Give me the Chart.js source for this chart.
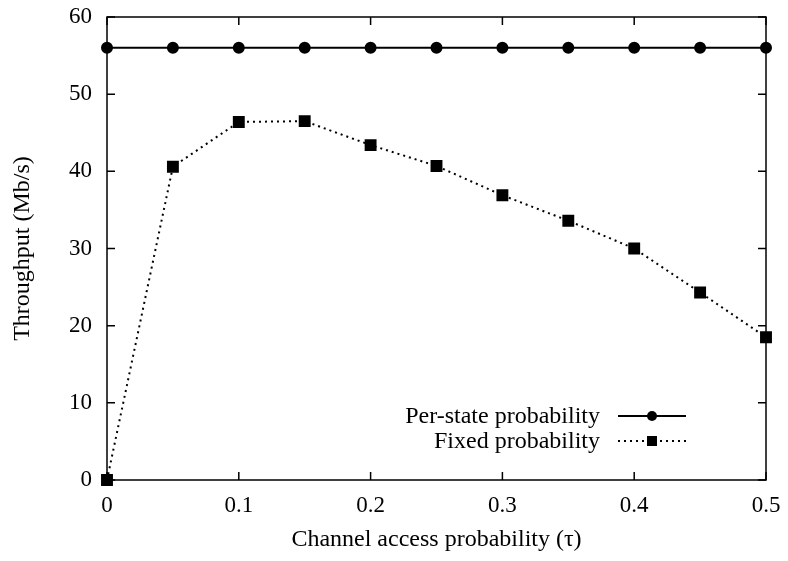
<!DOCTYPE html>
<html>
<head>
<meta charset="utf-8">
<script src="https://cdn.jsdelivr.net/npm/chart.js@4"></script>
<style>
  body { margin: 0; background: #fff; }
  canvas { display: block; }
</style>
</head>
<body>
<canvas id="tput_canvas" width="788" height="561"></canvas>
<script>
var tauValues      = [0, 0.05, 0.1, 0.15, 0.2, 0.25, 0.3, 0.35, 0.4, 0.45, 0.5];
var perStateValues = [56, 56, 56, 56, 56, 56, 56, 56, 56, 56, 56];
var fixedValues    = [0, 40.6, 46.4, 46.5, 43.4, 40.7, 36.9, 33.6, 30.0, 24.3, 18.5];
var seriesLabels   = ["Per-state probability", "Fixed probability"];
var xTitle = "Channel access probability (\u03c4)";
var yTitle = "Throughput (Mb/s)";

var serif = "'Liberation Serif', 'DejaVu Serif', serif";

function toPoints(ys) {
  return tauValues.map(function (x, i) { return { x: x, y: ys[i] }; });
}

// gnuplot style: ticks pointing inward on all four sides, plus a frame
var frameTicks = {
  id: "frameTicks",
  afterDraw: function (chart) {
    var ctx = chart.ctx, a = chart.chartArea;
    var xs = chart.scales.x, ys = chart.scales.y;
    var len = 8;
    ctx.save();
    ctx.strokeStyle = "#000";
    ctx.lineWidth = 1.5;
    ctx.strokeRect(a.left, a.top, a.right - a.left, a.bottom - a.top);
    ctx.beginPath();
    xs.ticks.forEach(function (t) {
      var px = xs.getPixelForValue(t.value);
      ctx.moveTo(px, a.bottom); ctx.lineTo(px, a.bottom - len);
      ctx.moveTo(px, a.top);    ctx.lineTo(px, a.top + len);
    });
    ys.ticks.forEach(function (t) {
      var py = ys.getPixelForValue(t.value);
      ctx.moveTo(a.left, py);  ctx.lineTo(a.left + len, py);
      ctx.moveTo(a.right, py); ctx.lineTo(a.right - len, py);
    });
    ctx.stroke();
    ctx.restore();
  }
};

// legend with text on the left and line sample on the right
var keyBox = {
  id: "keyBox",
  afterDatasetsDraw: function (chart) {
    var ctx = chart.ctx;
    var textRight = 600, lineL = 618, lineR = 686, rowY = [416, 441];
    ctx.save();
    ctx.font = "24px " + serif;
    ctx.fillStyle = "#000";
    ctx.textAlign = "right";
    ctx.textBaseline = "middle";
    chart.data.datasets.forEach(function (ds, i) {
      var y = rowY[i];
      ctx.fillText(ds.label, textRight, y + 1);
      ctx.strokeStyle = "#000";
      ctx.lineWidth = ds.borderWidth;
      ctx.setLineDash(ds.borderDash || []);
      ctx.beginPath();
      ctx.moveTo(lineL, y); ctx.lineTo(lineR, y);
      ctx.stroke();
      ctx.setLineDash([]);
      var cx = (lineL + lineR) / 2;
      ctx.beginPath();
      if (ds.pointStyle === "rect") {
        ctx.rect(cx - 5, y - 5, 10, 10);
      } else {
        ctx.arc(cx, y, 5, 0, Math.PI * 2);
      }
      ctx.fill();
    });
    ctx.restore();
  }
};

const chart = new Chart(document.getElementById("tput_canvas").getContext("2d"), {
  type: "line",
  data: {
    datasets: [{
      label:            seriesLabels[0],
      data:             toPoints(perStateValues),
      borderColor:      "#000",
      backgroundColor:  "#000",
      borderWidth:      2,
      pointStyle:       "circle",
      pointRadius:      5,
      clip:             false
    }, {
      label:            seriesLabels[1],
      data:             toPoints(fixedValues),
      borderColor:      "#000",
      backgroundColor:  "#000",
      borderWidth:      2,
      borderDash:       [2, 4],
      pointStyle:       "rect",
      pointRadius:      7,
      clip:             false
    }]
  },
  options: {
    responsive: false,
    animation: false,
    layout: { padding: { top: 17, right: 22, left: 0, bottom: 0 } },
    plugins: { legend: { display: false }, tooltip: { enabled: false } },
    scales: {
      x: {
        type: "linear", min: 0, max: 0.5,
        grid: { display: false },
        border: { display: false },
        ticks: { stepSize: 0.1, color: "#000", padding: 4, font: { family: serif, size: 23 } },
        title: { display: true, text: xTitle, color: "#000", padding: { top: 0, bottom: 7 }, font: { family: serif, size: 24 } },
        afterFit: function (s) { s.height = 81; s.paddingLeft = 0; s.paddingRight = 0; }
      },
      y: {
        min: 0, max: 60,
        grid: { display: false },
        border: { display: false },
        ticks: { stepSize: 10, color: "#000", padding: 7, font: { family: serif, size: 23 } },
        title: { display: true, text: yTitle, color: "#000", padding: { top: 8, bottom: 0 }, font: { family: serif, size: 24 } },
        afterFit: function (s) { s.width = 107; s.paddingTop = 0; s.paddingBottom = 0; }
      }
    }
  },
  plugins: [frameTicks, keyBox]
});
</script>
</body>
</html>
